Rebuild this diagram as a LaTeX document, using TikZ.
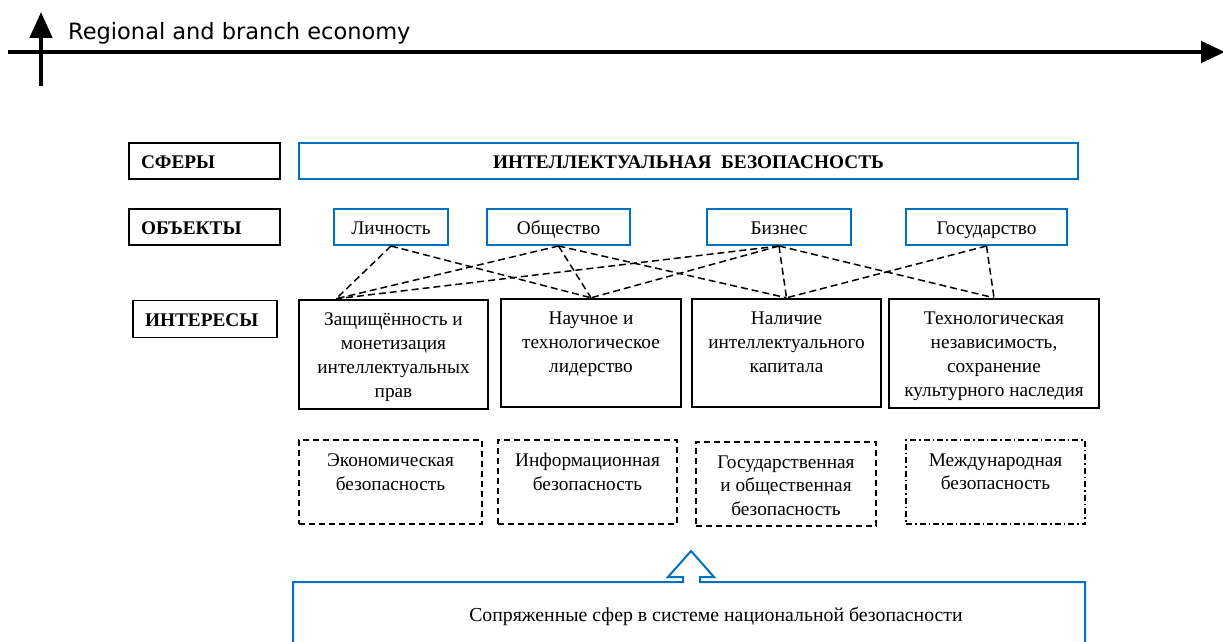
\documentclass[tikz,border=0pt]{standalone}
\usepackage{fontspec}
\setmainfont{Liberation Serif}
\newfontfamily\axisfont{DejaVu Sans}
\usetikzlibrary{arrows.meta,calc}

\definecolor{frameblue}{RGB}{0,112,192}

\tikzset{
  every node/.style={font=\fontsize{19.3}{23.8}\selectfont},
  head/.style={draw,line width=1.3pt,font=\fontsize{19.3}{23.8}\selectfont\bfseries,
    text width=127pt,inner xsep=12pt,minimum height=36pt,align=left,
    text height=16pt,text depth=2pt},
  obj/.style={draw=frameblue,line width=2pt,minimum height=36pt,
    text height=16pt,text depth=2pt},
  interest/.style={draw,line width=2.4pt},
  sec/.style={draw,line width=1.4pt,dash pattern=on 6pt off 4pt},
  txt/.style={anchor=north,align=center,inner sep=0pt},
  link/.style={line width=1.5pt,dash pattern=on 7pt off 4pt},
}

\begin{document}
\begin{tikzpicture}[x=1pt,y=-1pt]
\useasboundingbox (0,0) rectangle (1223,642);

% axes
\draw[line width=4.5pt,-{Triangle[length=24pt,width=21pt]}] (8,52) -- (1225,52);
\draw[line width=4.5pt,-{Triangle[length=26pt,width=22pt]}] (41,86) -- (41,12);
\node[anchor=west,inner sep=0pt,font=\axisfont\fontsize{22.5}{26}\selectfont] (axis) at (68,33) {Regional and branch economy};

% row labels
\node[head] (spheres) at (204.5,161) {СФЕРЫ};
\node[head] (objects) at (204.5,227) {ОБЪЕКТЫ};
\node[head,text width=120pt,minimum height=37pt] (interests) at (205,319) {ИНТЕРЕСЫ};

% sphere
\node[obj,minimum width=779pt,font=\fontsize{19.3}{23.8}\selectfont\bfseries] (intsec) at (688.5,161) {ИНТЕЛЛЕКТУАЛЬНАЯ\ \ БЕЗОПАСНОСТЬ};

% objects
\node[obj,minimum width=114pt] (person) at (391,227) {Личность};
\node[obj,minimum width=143pt] (society) at (558.5,227) {Общество};
\node[obj,minimum width=144pt] (business) at (779,227) {Бизнес};
\node[obj,minimum width=161pt] (state) at (986.5,227) {Государство};

% interests
\node[interest,minimum width=189pt,minimum height=109pt] (i1) at (393.5,354.5) {};
\node[interest,minimum width=180pt,minimum height=108pt] (i2) at (591,353) {};
\node[interest,minimum width=189pt,minimum height=108pt] (i3) at (786.5,353) {};
\node[interest,minimum width=210pt,minimum height=109pt] (i4) at (994,353.5) {};
\node[txt] (i1t) at ($(i1.north)+(0,14)$) {Защищённость и\\монетизация\\интеллектуальных\\прав};
\node[txt] (i2t) at ($(i2.north)+(0,14)$) {Научное и\\технологическое\\лидерство};
\node[txt] (i3t) at ($(i3.north)+(0,14)$) {Наличие\\интеллектуального\\капитала};
\node[txt] (i4t) at ($(i4.north)+(0,14)$) {Технологическая\\независимость,\\сохранение\\культурного наследия};

% kinds of security
\node[sec,minimum width=183pt,minimum height=84pt] (econ) at (390.5,482) {};
\node[sec,minimum width=179pt,minimum height=84pt] (info) at (587.5,482) {};
\node[sec,minimum width=180pt,minimum height=84pt] (pubsec) at (786,484) {};
\node[sec,minimum width=179pt,minimum height=84pt,dash pattern=on 6pt off 3pt on 1.5pt off 3pt] (intl) at (995.5,482) {};
\node[txt] (econt) at ($(econ.north)+(0,14)$) {Экономическая\\безопасность};
\node[txt] (infot) at ($(info.north)+(0,14)$) {Информационная\\безопасность};
\node[txt] (pubsect) at ($(pubsec.north)+(0,14)$) {Государственная\\и общественная\\безопасность};
\node[txt] (intlt) at ($(intl.north)+(0,14)$) {Международная\\безопасность};

% links objects -> interests
\coordinate (i1top) at ($(i1.north west)!0.2!(i1.north east)$);
\foreach \a/\b in {person/i1top,person/i2.north,society/i1top,society/i2.north,society/i3.north,
  business/i1top,business/i2.north,business/i3.north,business/i4.north,state/i3.north,state/i4.north}
  \draw[link] (\a.south) -- (\b);

% national security frame with arrow
\draw[draw=frameblue,line width=2pt] (293,660) -- (293,582) -- (683,582) -- (683,577) -- (668,577)
  -- (691,551) -- (714,577) -- (700,577) -- (700,582) -- (1085,582) -- (1085,660);
\node[inner sep=0pt,font=\fontsize{19.8}{24}\selectfont] (nation) at (716,617) {Сопряженные сфер в системе национальной безопасности};
\end{tikzpicture}
\end{document}
